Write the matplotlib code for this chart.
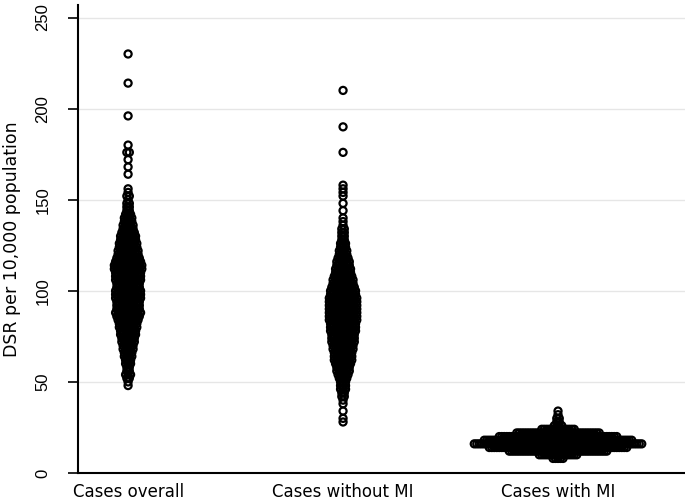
import matplotlib.pyplot as plt
import numpy as np

# Stata-style dot plot: values binned (2 units) and stacked side by side
categories = ['Cases overall', 'Cases without MI', 'Cases with MI']

# DSR bin value -> number of areas in that bin
overall_vals = [230, 214, 196, 180, 176, 172, 168, 164, 156, 154, 152, 150, 148, 146, 144,
                142, 140, 138, 136, 134, 132, 130, 128, 126, 124, 122, 120, 118, 116, 114,
                112, 110, 108, 106, 104, 102, 100, 98, 96, 94, 92, 90, 88, 86, 84, 82, 80,
                78, 76, 74, 72, 70, 68, 66, 64, 62, 60, 58, 56, 54, 52, 50, 48]
overall_counts = [1, 1, 1, 1, 2, 1, 1, 1, 1, 1, 2, 1, 2, 2, 2,
                  3, 4, 4, 5, 5, 6, 7, 7, 8, 8, 9, 9, 10, 11, 12,
                  12, 11, 11, 11, 10, 10, 11, 11, 11, 10, 10, 10, 11, 10, 9, 8, 8,
                  7, 7, 6, 6, 5, 5, 4, 4, 3, 3, 2, 2, 3, 2, 1, 1]

without_vals = [210, 190, 176, 158, 156, 154, 152, 148, 144, 140, 138, 136, 134, 132, 130,
                128, 126, 124, 122, 120, 118, 116, 114, 112, 110, 108, 106, 104, 102, 100,
                98, 96, 94, 92, 90, 88, 86, 84, 82, 80, 78, 76, 74, 72, 70, 68, 66, 64,
                62, 60, 58, 56, 54, 52, 50, 48, 46, 44, 42, 40, 38, 34, 30, 28]
without_counts = [1, 1, 1, 1, 1, 1, 1, 1, 1, 1, 1, 1, 2, 2, 2,
                  2, 3, 3, 4, 4, 5, 6, 6, 7, 7, 8, 9, 9, 10, 11,
                  11, 12, 12, 12, 12, 12, 12, 12, 11, 11, 11, 10, 10, 10, 9, 9, 8, 8,
                  8, 7, 6, 6, 5, 4, 3, 3, 3, 2, 2, 1, 1, 1, 1, 1]

with_vals = [34, 32, 30, 28, 26, 24, 22, 20, 18, 16, 14, 12, 10, 8]
with_counts = [1, 1, 2, 2, 4, 14, 34, 48, 60, 68, 56, 40, 16, 5]

groups = [(overall_vals, overall_counts),
          (without_vals, without_counts),
          (with_vals, with_counts)]

fig = plt.figure(figsize=(6.85, 5.04), dpi=100)
ax = fig.add_axes([0.114, 0.0615, 0.886, 0.929])

dx = 2.5 / 215  # horizontal step between stacked dots (data units)
for pos, (vals, counts) in enumerate(groups):
    xs, ys = [], []
    for v, n in zip(vals, counts):
        offs = (np.arange(n) - (n - 1) / 2) * dx
        xs.extend(pos + offs)
        ys.extend([v] * n)
    ax.scatter(xs, ys, s=26, facecolors='none', edgecolors='black',
               linewidths=1.6, zorder=3)

ax.set_xlim(-50 / 215, 2 + 127 / 215)
ax.set_ylim(0, 257)
ax.set_yticks([0, 50, 100, 150, 200, 250])
ax.set_xticks(range(3))
ax.set_xticklabels(categories, fontsize=12)
ax.tick_params(axis='x', length=0, pad=7)
ax.tick_params(axis='y', length=7, width=1.2, pad=13, labelsize=12)
for lab in ax.get_yticklabels():
    lab.set_rotation(90)
    lab.set_va('center')
    lab.set_fontfamily('Liberation Sans')
ax.set_ylabel('DSR per 10,000 population', fontsize=12.5, labelpad=10)

ax.grid(axis='y', color='#e6e6e6', linewidth=1)
ax.set_axisbelow(True)
ax.spines['top'].set_visible(False)
ax.spines['right'].set_visible(False)
ax.spines['left'].set_linewidth(1.5)
ax.spines['bottom'].set_linewidth(1.5)

plt.savefig('out.png', dpi=100)
